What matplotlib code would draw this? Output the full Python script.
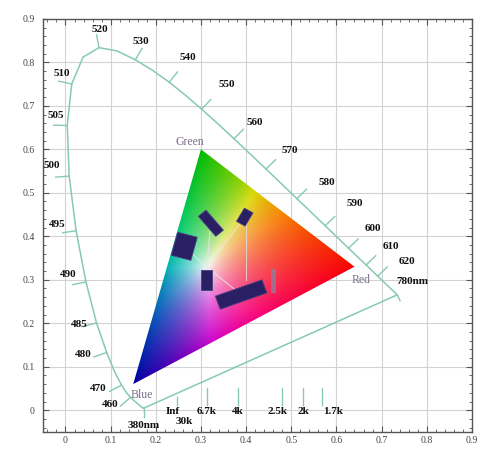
import numpy as np
import matplotlib
matplotlib.use("Agg")
import matplotlib.pyplot as plt
from matplotlib.patches import Polygon, Rectangle
from matplotlib.ticker import MultipleLocator, FixedLocator

# CIE 1931 spectral locus (nm, x, y)
wl = [380, 385, 390, 395, 400, 405, 410, 415, 420, 425, 430, 435, 440, 445, 450,
      455, 460, 465, 470, 475, 480, 485, 490, 495, 500, 505, 510, 515, 520, 525,
      530, 535, 540, 545, 550, 555, 560, 565, 570, 575, 580, 585, 590, 595, 600,
      605, 610, 615, 620, 625, 630, 640, 650, 660, 680, 780]
lx = [0.1741, 0.1740, 0.1738, 0.1736, 0.1733, 0.1730, 0.1726, 0.1721, 0.1714, 0.1703,
      0.1689, 0.1669, 0.1644, 0.1611, 0.1566, 0.1510, 0.1440, 0.1355, 0.1241, 0.1096,
      0.0913, 0.0687, 0.0454, 0.0235, 0.0082, 0.0039, 0.0139, 0.0389, 0.0743, 0.1142,
      0.1547, 0.1929, 0.2296, 0.2658, 0.3016, 0.3373, 0.3731, 0.4087, 0.4441, 0.4788,
      0.5125, 0.5448, 0.5752, 0.6029, 0.6270, 0.6482, 0.6658, 0.6801, 0.6915, 0.7006,
      0.7079, 0.7190, 0.7260, 0.7300, 0.7334, 0.7347]
ly = [0.0050, 0.0050, 0.0049, 0.0049, 0.0048, 0.0048, 0.0048, 0.0048, 0.0051, 0.0058,
      0.0069, 0.0086, 0.0109, 0.0138, 0.0177, 0.0227, 0.0297, 0.0399, 0.0578, 0.0868,
      0.1327, 0.2007, 0.2950, 0.4127, 0.5384, 0.6548, 0.7502, 0.8120, 0.8338, 0.8262,
      0.8059, 0.7816, 0.7543, 0.7243, 0.6923, 0.6589, 0.6245, 0.5896, 0.5547, 0.5202,
      0.4866, 0.4544, 0.4242, 0.3965, 0.3725, 0.3514, 0.3340, 0.3197, 0.3083, 0.2993,
      0.2920, 0.2809, 0.2740, 0.2700, 0.2666, 0.2653]

# labelled wavelengths and label positions
lab_wl = [380, 460, 470, 480, 485, 490, 495, 500, 505, 510, 520, 530, 540, 550,
          560, 570, 580, 590, 600, 610, 620, 780]
lab_txt = ["380nm", "460", "470", "480", "485", "490", "495", "500", "505", "510",
           "520", "530", "540", "550", "560", "570", "580", "590", "600", "610",
           "620", "780nm"]
lab_x = [0.172, 0.098, 0.072, 0.040, 0.030, 0.007, -0.018, -0.030, -0.022, -0.008,
         0.077, 0.166, 0.272, 0.357, 0.420, 0.497, 0.578, 0.640, 0.680, 0.720,
         0.757, 0.768]
lab_y = [-0.035, 0.014, 0.049, 0.127, 0.197, 0.312, 0.426, 0.563, 0.678, 0.775,
         0.875, 0.847, 0.810, 0.748, 0.662, 0.597, 0.523, 0.475, 0.417, 0.377,
         0.343, 0.296]

# display gamut (sRGB primaries)
prim_names = ["Red", "Green", "Blue"]
prim_x = [0.64, 0.30, 0.15]
prim_y = [0.33, 0.60, 0.06]
prim_lab_x = [0.655, 0.276, 0.168]
prim_lab_y = [0.300, 0.616, 0.035]

# correlated colour temperature markers
cct_txt = ["Inf", "30k", "6.7k", "4k", "2.5k", "2k", "1.7k"]
cct_tick_x = [0.247, None, 0.313, 0.382, 0.479, 0.525, 0.567]
cct_lab_x = [0.238, 0.262, 0.313, 0.382, 0.470, 0.527, 0.592]
cct_lab_y = [-0.004, -0.027, -0.004, -0.004, -0.004, -0.004, -0.004]

# dark annotation boxes inside the gamut (centre x, centre y, w, h, angle)
box_cx = [0.263, 0.322, 0.397, 0.313, 0.389]
box_cy = [0.377, 0.430, 0.444, 0.300, 0.266]
box_w = [0.045, 0.060, 0.022, 0.025, 0.110]
box_h = [0.055, 0.022, 0.035, 0.045, 0.032]
box_a = [-15, -50, -30, 0, 20]

locus_col = "#86c9b4"
lab_font = "Liberation Serif"

fig = plt.figure(figsize=(4.82, 4.49), dpi=100)
ax = fig.add_axes([0.089, 0.038, 0.890, 0.920])

# gamut colour fill
xs = np.linspace(0.12, 0.68, 500)
ys = np.linspace(0.03, 0.63, 500)
X, Y = np.meshgrid(xs, ys)
Xc = X / Y
Zc = (1 - X - Y) / Y
M = np.array([[3.2406, -1.5372, -0.4986],
              [-0.9689, 1.8758, 0.0415],
              [0.0557, -0.2040, 1.0570]])
rgb = np.stack([M[i, 0] * Xc + M[i, 1] * 1.0 + M[i, 2] * Zc for i in range(3)], axis=-1)
rgb = np.clip(rgb, 0, None)
rgb = rgb / np.maximum(rgb.max(axis=-1, keepdims=True), 1e-9)
rgb = np.clip(rgb, 0, 1) ** (1 / 1.25)
# darken towards the blue and green corners a little
bw = np.clip(rgb[..., 2] - 0.5 * (rgb[..., 0] + rgb[..., 1]), 0, 1)
gw = np.clip(rgb[..., 1] - 0.5 * (rgb[..., 0] + rgb[..., 2]), 0, 1)
rgb = rgb * (1 - 0.35 * bw[..., None]) * (1 - 0.25 * gw[..., None])
rgb = np.clip(rgb * 0.97, 0, 1)
im = ax.imshow(rgb, origin="lower", extent=[xs[0], xs[-1], ys[0], ys[-1]],
               interpolation="bilinear", zorder=2, aspect="auto")
tri = Polygon(list(zip(prim_x, prim_y)), closed=True, facecolor="none",
              edgecolor="none", transform=ax.transData)
ax.add_patch(tri)
im.set_clip_path(tri)
ax.set_xlim(-0.05, 0.9)
ax.set_ylim(-0.05, 0.9)

# spectral locus and purple line
ax.plot(lx + [lx[0]], ly + [ly[0]], color=locus_col, lw=1.1, zorder=3)

# wavelength ticks and labels
lxa = np.array(lx)
lya = np.array(ly)
n = len(lxa)
for w, t, tx, ty in zip(lab_wl, lab_txt, lab_x, lab_y):
    i = wl.index(w)
    p = (lxa[i], lya[i])
    a = ((i - 1) % n)
    b = ((i + 1) % n)
    dx = lxa[b] - lxa[a]
    dy = lya[b] - lya[a]
    nx, ny = -dy, dx
    L = np.hypot(nx, ny)
    nx, ny = nx / L, ny / L
    ln = 0.03
    if w == 380:
        nx, ny = 0.0, -1.0
        ln = 0.02
    if w == 780:
        ln = 0.015
    ax.plot([p[0], p[0] + nx * ln], [p[1], p[1] + ny * ln], color=locus_col,
            lw=1.0, zorder=3)
    ax.text(tx, ty, t, ha="center", va="center", fontsize=8,
            family=lab_font, weight="bold", color="#111111", zorder=5)

# CCT ticks
for tx_, t, lxp, lyp in zip(cct_tick_x, cct_txt, cct_lab_x, cct_lab_y):
    if tx_ is not None:
        top = 0.03 if t == "Inf" else 0.05
        ax.plot([tx_, tx_], [0.012, top], color=locus_col, lw=1.0, zorder=3)
    ax.text(lxp, lyp, t, ha="center", va="center", fontsize=8,
            family=lab_font, weight="bold", color="#111111", zorder=5)

# primary labels
for name, px_, py_ in zip(prim_names, prim_lab_x, prim_lab_y):
    ax.text(px_, py_, name, ha="center", va="center", fontsize=8.5,
            family=lab_font, color="#7a6e8a", zorder=5)

# faint connecting lines inside gamut
wpx, wpy = 0.3127, 0.3290
for cx, cy in zip(box_cx, box_cy):
    ax.plot([wpx, cx], [wpy, cy], color="#e8e8e8", lw=0.8, alpha=0.8, zorder=3)
ax.plot([0.40, 0.40], [0.44, 0.30], color="#dddddd", lw=0.8, alpha=0.8, zorder=3)

# annotation boxes
for cx, cy, w, h, a in zip(box_cx, box_cy, box_w, box_h, box_a):
    r = Rectangle((cx - w / 2, cy - h / 2), w, h, angle=a, rotation_point="center",
                  facecolor="#2a1f63", edgecolor="#4a4080", lw=0.6, zorder=4)
    ax.add_patch(r)
# gray marker shape
ax.add_patch(Rectangle((0.455, 0.27), 0.012, 0.055, facecolor="#8a7f9a",
                       edgecolor="none", alpha=0.8, zorder=4))

# axes styling
ax.xaxis.set_major_locator(FixedLocator(np.arange(0, 0.91, 0.1)))
ax.yaxis.set_major_locator(FixedLocator(np.arange(0, 0.91, 0.1)))
ax.xaxis.set_minor_locator(MultipleLocator(0.02))
ax.yaxis.set_minor_locator(MultipleLocator(0.02))
ticklabels = ["0"] + ["%.1f" % v for v in np.arange(0.1, 0.91, 0.1)]
ax.set_xticklabels(ticklabels)
ax.set_yticklabels(ticklabels)
ax.tick_params(which="both", direction="in", top=True, right=True,
               colors="#555555", labelcolor="#444444", labelsize=7)
ax.tick_params(which="major", length=4, width=0.8)
ax.tick_params(which="minor", length=2.5, width=0.6)
ax.tick_params(axis="x", pad=3)
ax.tick_params(axis="y", pad=6)
for lab in ax.get_xticklabels() + ax.get_yticklabels():
    lab.set_family(lab_font)
for s in ax.spines.values():
    s.set_color("#555555")
    s.set_linewidth(1.0)
ax.grid(True, which="major", color="#d2d2d2", lw=0.8, zorder=0)
ax.set_axisbelow(True)

fig.savefig("out.png", dpi=100)
